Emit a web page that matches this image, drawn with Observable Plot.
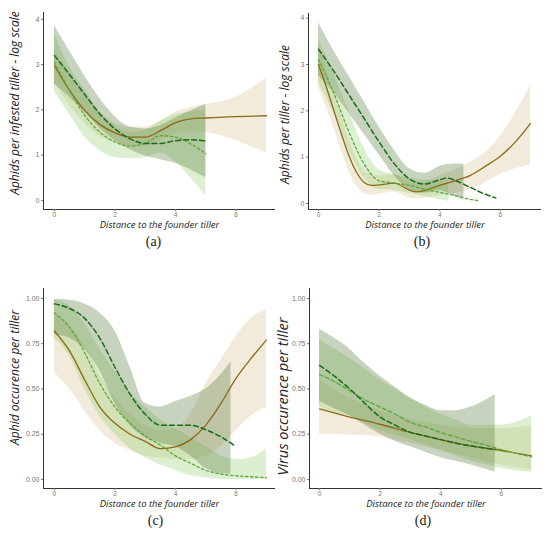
<!DOCTYPE html>
<html>
<head>
<meta charset="utf-8">
<script src="https://cdn.jsdelivr.net/npm/d3@7"></script>
<script src="https://cdn.jsdelivr.net/npm/@observablehq/plot@0.6"></script>
<style>
  html, body { margin: 0; padding: 0; background: #fff; }
  #chart { position: relative; width: 550px; height: 533px; background: #fff; overflow: hidden; }
  #chart svg { position: absolute; }
</style>
</head>
<body>
<div id="chart"></div>
<script>
// ---------- shared text / ticks ----------
const xTitle = "Distance to the founder tiller";
const xTicks = [0, 2, 4, 6];
const yTicksCount = [0, 1, 2, 3, 4];
const yTicksProp = [0, 0.25, 0.5, 0.75, 1];
const yTitles = ["Aphids per infested tiller - log scale", "Aphids per tiller - log scale",
                 "Aphid occurence per tiller", "Virus occurence per tiller"];
const panelLetters = ["(a)", "(b)", "(c)", "(d)"];

// ---------- panel (a) ----------
const aBrownX  = [0, 0.5, 1, 1.5, 2, 2.5, 3, 3.5, 4, 4.5, 5, 6, 7];
const aBrownY  = [2.98, 2.43, 1.99, 1.68, 1.49, 1.40, 1.40, 1.54, 1.72, 1.80, 1.82, 1.85, 1.87];
const aBrownHi = [3.35, 2.80, 2.30, 1.95, 1.70, 1.62, 1.62, 1.75, 1.95, 2.05, 2.12, 2.28, 2.70];
const aBrownLo = [2.60, 2.10, 1.70, 1.42, 1.28, 1.20, 1.20, 1.32, 1.47, 1.52, 1.50, 1.32, 1.05];
const aDarkX   = [0, 0.5, 1, 1.5, 2, 2.5, 3, 3.5, 4, 4.5, 5];
const aDarkY   = [3.20, 2.78, 2.34, 1.91, 1.58, 1.36, 1.26, 1.26, 1.32, 1.34, 1.31];
const aDarkHi  = [3.86, 3.30, 2.75, 2.25, 1.85, 1.62, 1.58, 1.65, 1.82, 1.98, 2.12];
const aDarkLo  = [2.57, 2.28, 1.95, 1.60, 1.32, 1.12, 0.98, 0.90, 0.82, 0.68, 0.50];
const aLightX  = [0, 0.5, 1, 1.5, 2, 2.5, 3, 3.5, 4, 4.5, 5];
const aLightY  = [3.05, 2.43, 1.88, 1.51, 1.29, 1.20, 1.26, 1.43, 1.40, 1.25, 1.03];
const aLightHi = [3.70, 2.95, 2.45, 1.95, 1.65, 1.50, 1.55, 1.75, 1.90, 1.95, 2.00];
const aLightLo = [2.40, 1.90, 1.40, 1.10, 0.95, 0.92, 0.95, 1.05, 0.85, 0.50, 0.10];

// ---------- panel (b) ----------
const bBrownX  = [0, 0.25, 0.5, 0.75, 1, 1.25, 1.5, 1.75, 2, 2.5, 3, 3.25, 3.5, 4, 4.5, 5, 5.5, 6, 6.5, 7];
const bBrownY  = [3.00, 2.53, 2.02, 1.51, 1.04, 0.68, 0.46, 0.39, 0.40, 0.44, 0.29, 0.25, 0.28, 0.39, 0.49, 0.60, 0.80, 1.02, 1.33, 1.73];
const bBrownHi = [3.40, 2.90, 2.40, 1.90, 1.40, 1.00, 0.72, 0.62, 0.60, 0.62, 0.45, 0.42, 0.45, 0.60, 0.72, 0.88, 1.10, 1.45, 1.95, 2.55];
const bBrownLo = [2.50, 2.10, 1.65, 1.15, 0.70, 0.38, 0.22, 0.18, 0.20, 0.25, 0.12, 0.10, 0.12, 0.18, 0.22, 0.30, 0.45, 0.62, 0.75, 0.83];
const bDarkX   = [0, 0.5, 1, 1.5, 2, 2.5, 3, 3.5, 4, 4.25, 4.5, 5, 5.5, 5.85];
const bDarkY   = [3.33, 2.86, 2.35, 1.84, 1.33, 0.86, 0.53, 0.42, 0.51, 0.55, 0.50, 0.35, 0.20, 0.12];
const bDarkBandX = [0, 0.5, 1, 1.5, 2, 2.5, 3, 3.5, 4, 4.5, 4.8];
const bDarkHi  = [3.90, 3.30, 2.75, 2.20, 1.65, 1.15, 0.75, 0.65, 0.80, 0.85, 0.85];
const bDarkLo  = [2.75, 2.40, 1.95, 1.50, 1.05, 0.60, 0.30, 0.22, 0.28, 0.15, 0.08];
const bLightX  = [0, 0.5, 1, 1.5, 2, 2.5, 3, 3.5, 4, 4.5, 5, 5.3];
const bLightY  = [3.11, 2.39, 1.55, 0.86, 0.49, 0.44, 0.39, 0.31, 0.24, 0.17, 0.09, 0.06];
const bLightBandX = [0, 0.5, 1, 1.5, 2, 2.5, 3, 3.5, 4, 4.3];
const bLightHi = [3.55, 2.80, 2.00, 1.20, 0.72, 0.62, 0.55, 0.50, 0.50, 0.50];
const bLightLo = [2.60, 1.95, 1.15, 0.55, 0.30, 0.28, 0.22, 0.15, 0.08, 0.05];

// ---------- panel (c) ----------
const cBrownX  = [0, 0.5, 1, 1.5, 2, 2.5, 3, 3.5, 4, 4.5, 5, 5.5, 6, 6.5, 7];
const cBrownY  = [0.82, 0.71, 0.55, 0.40, 0.31, 0.25, 0.21, 0.17, 0.18, 0.22, 0.30, 0.42, 0.56, 0.67, 0.77];
const cBrownHi = [0.92, 0.85, 0.74, 0.58, 0.45, 0.36, 0.30, 0.27, 0.28, 0.36, 0.53, 0.66, 0.79, 0.89, 0.94];
const cBrownLo = [0.59, 0.50, 0.38, 0.27, 0.20, 0.16, 0.13, 0.12, 0.11, 0.11, 0.13, 0.18, 0.27, 0.35, 0.40];
const cDarkX   = [0, 0.5, 1, 1.5, 2, 2.5, 3, 3.5, 4, 4.5, 5, 5.5, 5.92];
const cDarkY   = [0.97, 0.945, 0.89, 0.78, 0.62, 0.47, 0.36, 0.30, 0.30, 0.30, 0.275, 0.235, 0.19];
const cDarkBandX = [0, 0.5, 1, 1.5, 2, 2.5, 3, 3.5, 4, 4.5, 5, 5.5, 5.83];
const cDarkHi  = [0.995, 0.99, 0.97, 0.92, 0.82, 0.62, 0.42, 0.40, 0.43, 0.46, 0.50, 0.58, 0.65];
const cDarkLo  = [0.80, 0.78, 0.72, 0.60, 0.42, 0.30, 0.23, 0.20, 0.18, 0.13, 0.06, 0.03, 0.03];
const cLightX  = [0, 0.5, 1, 1.5, 2, 2.5, 3, 3.5, 4, 4.5, 5, 5.5, 6, 6.5, 7];
const cLightY  = [0.92, 0.84, 0.70, 0.53, 0.40, 0.31, 0.24, 0.19, 0.13, 0.09, 0.05, 0.03, 0.02, 0.015, 0.01];
const cLightHi = [0.99, 0.96, 0.86, 0.72, 0.60, 0.48, 0.40, 0.33, 0.28, 0.23, 0.18, 0.13, 0.11, 0.12, 0.17];
const cLightLo = [0.78, 0.68, 0.50, 0.35, 0.25, 0.17, 0.12, 0.08, 0.05, 0.02, 0.01, 0.00, 0.00, 0.00, 0.00];

// ---------- panel (d) ----------
const dBrownX  = [0, 1, 2, 3, 4, 5, 6, 7];
const dBrownY  = [0.39, 0.345, 0.305, 0.26, 0.22, 0.185, 0.16, 0.13];
const dBrownHi = [0.55, 0.45, 0.38, 0.33, 0.30, 0.28, 0.28, 0.30];
const dBrownLo = [0.25, 0.245, 0.235, 0.20, 0.16, 0.12, 0.08, 0.05];
const dDarkX   = [0, 0.5, 1, 1.5, 2, 2.5, 3, 3.5, 4, 4.5, 5, 5.8];
const dDarkY   = [0.63, 0.57, 0.50, 0.42, 0.345, 0.30, 0.26, 0.24, 0.22, 0.20, 0.185, 0.165];
const dDarkHi  = [0.83, 0.78, 0.72, 0.64, 0.57, 0.51, 0.45, 0.41, 0.38, 0.38, 0.40, 0.47];
const dDarkLo  = [0.43, 0.39, 0.35, 0.30, 0.25, 0.21, 0.18, 0.15, 0.12, 0.10, 0.08, 0.04];
const dLightX  = [0, 0.5, 1, 1.5, 2, 2.5, 3, 3.5, 4, 4.5, 5, 5.5, 6, 7];
const dLightY  = [0.58, 0.54, 0.49, 0.44, 0.40, 0.36, 0.315, 0.29, 0.26, 0.235, 0.21, 0.19, 0.165, 0.125];
const dLightHi = [0.77, 0.72, 0.67, 0.61, 0.55, 0.50, 0.45, 0.40, 0.36, 0.33, 0.30, 0.30, 0.30, 0.35];
const dLightLo = [0.40, 0.37, 0.35, 0.31, 0.27, 0.245, 0.22, 0.19, 0.16, 0.13, 0.10, 0.08, 0.06, 0.04];

// ---------- styling ----------
const COL = {
  brownLine: "#8b6a14", brownBand: "#d4bc87",
  darkLine: "#1a6b1a",  darkBand: "#56793a",
  lightLine: "#5aa83a", lightBand: "#8aca62"
};
const TITLE_FONT = "'Open Sans', 'DejaVu Sans', sans-serif";

function line(xs, ys) { return xs.map((x, i) => ({x, y: ys[i]})); }
function band(xs, lo, hi) { return xs.map((x, i) => ({x, lo: lo[i], hi: hi[i]})); }

function panel(cfg) {
  const curve = "monotone-x";
  const s = cfg.series;
  const plot = Plot.plot({
    width: 275, height: cfg.height,
    marginLeft: cfg.mL, marginRight: cfg.mR, marginTop: cfg.mT, marginBottom: cfg.mB,
    style: {fontFamily: "'Liberation Sans', Arial, sans-serif", fontSize: "6.5px", background: "transparent", overflow: "visible"},
    x: {domain: cfg.xDom},
    y: {domain: cfg.yDom},
    marks: [
      Plot.areaY(band(s.brown.bx, s.brown.lo, s.brown.hi), {x: "x", y1: "lo", y2: "hi", fill: COL.brownBand, fillOpacity: 0.3, curve}),
      Plot.areaY(band(s.light.bx, s.light.lo, s.light.hi), {x: "x", y1: "lo", y2: "hi", fill: COL.lightBand, fillOpacity: 0.3, curve}),
      Plot.areaY(band(s.dark.bx, s.dark.lo, s.dark.hi), {x: "x", y1: "lo", y2: "hi", fill: COL.darkBand, fillOpacity: 0.33, curve}),
      Plot.line(line(s.brown.x, s.brown.y), {x: "x", y: "y", stroke: COL.brownLine, strokeWidth: 1.3, curve}),
      Plot.line(line(s.light.x, s.light.y), {x: "x", y: "y", stroke: COL.lightLine, strokeWidth: 1.3, strokeDasharray: cfg.lightDash, curve}),
      Plot.line(line(s.dark.x, s.dark.y), {x: "x", y: "y", stroke: COL.darkLine, strokeWidth: 1.5, strokeDasharray: "5,3", curve}),
      Plot.ruleY([cfg.yDom[0]], {stroke: "#333", strokeWidth: 1}),
      Plot.ruleX([cfg.xDom[0]], {stroke: "#333", strokeWidth: 1}),
      Plot.axisX({ticks: xTicks, tickSize: 2, tickPadding: 0.5, color: "#777", label: null, fontSize: 6.5}),
      Plot.axisY({ticks: cfg.yTicks, tickSize: 2, tickPadding: 2, color: "#777", label: null, fontSize: 7,
                  tickFormat: cfg.yFmt}),
      Plot.text([xTitle], {frameAnchor: "bottom", text: d => d, dy: cfg.xtDy, fontStyle: "italic",
                 fontSize: 9.5, fontFamily: TITLE_FONT, fill: "#222", ariaLabel: "xtitle"}),
      Plot.text([cfg.ytitle], {frameAnchor: "left", text: d => d, rotate: -90, textAnchor: "middle",
                 dx: cfg.ytDx, dy: cfg.ytDy, fontStyle: "italic", fontSize: cfg.ytSize,
                 fontFamily: TITLE_FONT, fill: "#222", ariaLabel: "ytitle"}),
      Plot.text([cfg.letter], {frameAnchor: "bottom", text: d => d, dx: cfg.letDx, dy: cfg.letDy,
                 fontSize: 14, fontFamily: "'Liberation Serif', 'DejaVu Serif', serif", fill: "#222"})
    ]
  });
  plot.style.left = cfg.left + "px";
  plot.style.top = cfg.top + "px";
  const xt = plot.querySelector('g[aria-label="xtitle"] text');
  if (xt) { xt.setAttribute("textLength", 110); xt.setAttribute("lengthAdjust", "spacingAndGlyphs"); }
  const yt = plot.querySelector('g[aria-label="ytitle"] text');
  if (yt) { yt.setAttribute("textLength", cfg.ytLen); yt.setAttribute("lengthAdjust", "spacingAndGlyphs"); }
  document.getElementById("chart").appendChild(plot);
}

const f2 = d3.format(".2f");

panel({
  left: 0, top: 0, height: 250, mL: 43, mR: 0, mT: 12, mB: 41,
  xDom: [-0.36, 7.3], yDom: [-0.2, 4.15], yTicks: yTicksCount, yFmt: d3.format("d"),
  ytitle: yTitles[0], ytLen: 175, ytSize: 12, ytDx: -28, ytDy: -8, xtDy: 18,
  letter: panelLetters[0], letDx: -6, letDy: 36, lightDash: "2.5,2.5",
  series: {
    brown: {x: aBrownX, y: aBrownY, bx: aBrownX, lo: aBrownLo, hi: aBrownHi},
    dark:  {x: aDarkX,  y: aDarkY,  bx: aDarkX,  lo: aDarkLo,  hi: aDarkHi},
    light: {x: aLightX, y: aLightY, bx: aLightX, lo: aLightLo, hi: aLightHi}
  }
});
panel({
  left: 275, top: 0, height: 250, mL: 33, mR: 9, mT: 13, mB: 41,
  xDom: [-0.33, 7.36], yDom: [-0.13, 4.1], yTicks: yTicksCount, yFmt: d3.format("d"),
  ytitle: yTitles[1], ytLen: 132, ytSize: 12, ytDx: -23, ytDy: 3, xtDy: 18,
  letter: panelLetters[1], letDx: -3, letDy: 36, lightDash: "2.5,2.5",
  series: {
    brown: {x: bBrownX, y: bBrownY, bx: bBrownX, lo: bBrownLo, hi: bBrownHi},
    dark:  {x: bDarkX,  y: bDarkY,  bx: bDarkBandX,  lo: bDarkLo,  hi: bDarkHi},
    light: {x: bLightX, y: bLightY, bx: bLightBandX, lo: bLightLo, hi: bLightHi}
  }
});
panel({
  left: 0, top: 265, height: 268, mL: 43, mR: 0, mT: 23, mB: 45,
  xDom: [-0.36, 7.3], yDom: [-0.05, 1.055], yTicks: yTicksProp, yFmt: f2,
  ytitle: yTitles[2], ytLen: 120, ytSize: 12, ytDx: -28, ytDy: -11, xtDy: 18,
  letter: panelLetters[2], letDx: -4, letDy: 36, lightDash: "2.5,2.5",
  series: {
    brown: {x: cBrownX, y: cBrownY, bx: cBrownX, lo: cBrownLo, hi: cBrownHi},
    dark:  {x: cDarkX,  y: cDarkY,  bx: cDarkBandX,  lo: cDarkLo,  hi: cDarkHi},
    light: {x: cLightX, y: cLightY, bx: cLightX, lo: cLightLo, hi: cLightHi}
  }
});
panel({
  left: 275, top: 265, height: 268, mL: 34, mR: 8, mT: 23, mB: 45,
  xDom: [-0.33, 7.36], yDom: [-0.05, 1.055], yTicks: yTicksProp, yFmt: f2,
  ytitle: yTitles[3], ytLen: 152, ytSize: 14.5, ytDx: -26, ytDy: 8, xtDy: 18,
  letter: panelLetters[3], letDx: -3, letDy: 36, lightDash: "4,2.5",
  series: {
    brown: {x: dBrownX, y: dBrownY, bx: dBrownX, lo: dBrownLo, hi: dBrownHi},
    dark:  {x: dDarkX,  y: dDarkY,  bx: dDarkX,  lo: dDarkLo,  hi: dDarkHi},
    light: {x: dLightX, y: dLightY, bx: dLightX, lo: dLightLo, hi: dLightHi}
  }
});
</script>
</body>
</html>
